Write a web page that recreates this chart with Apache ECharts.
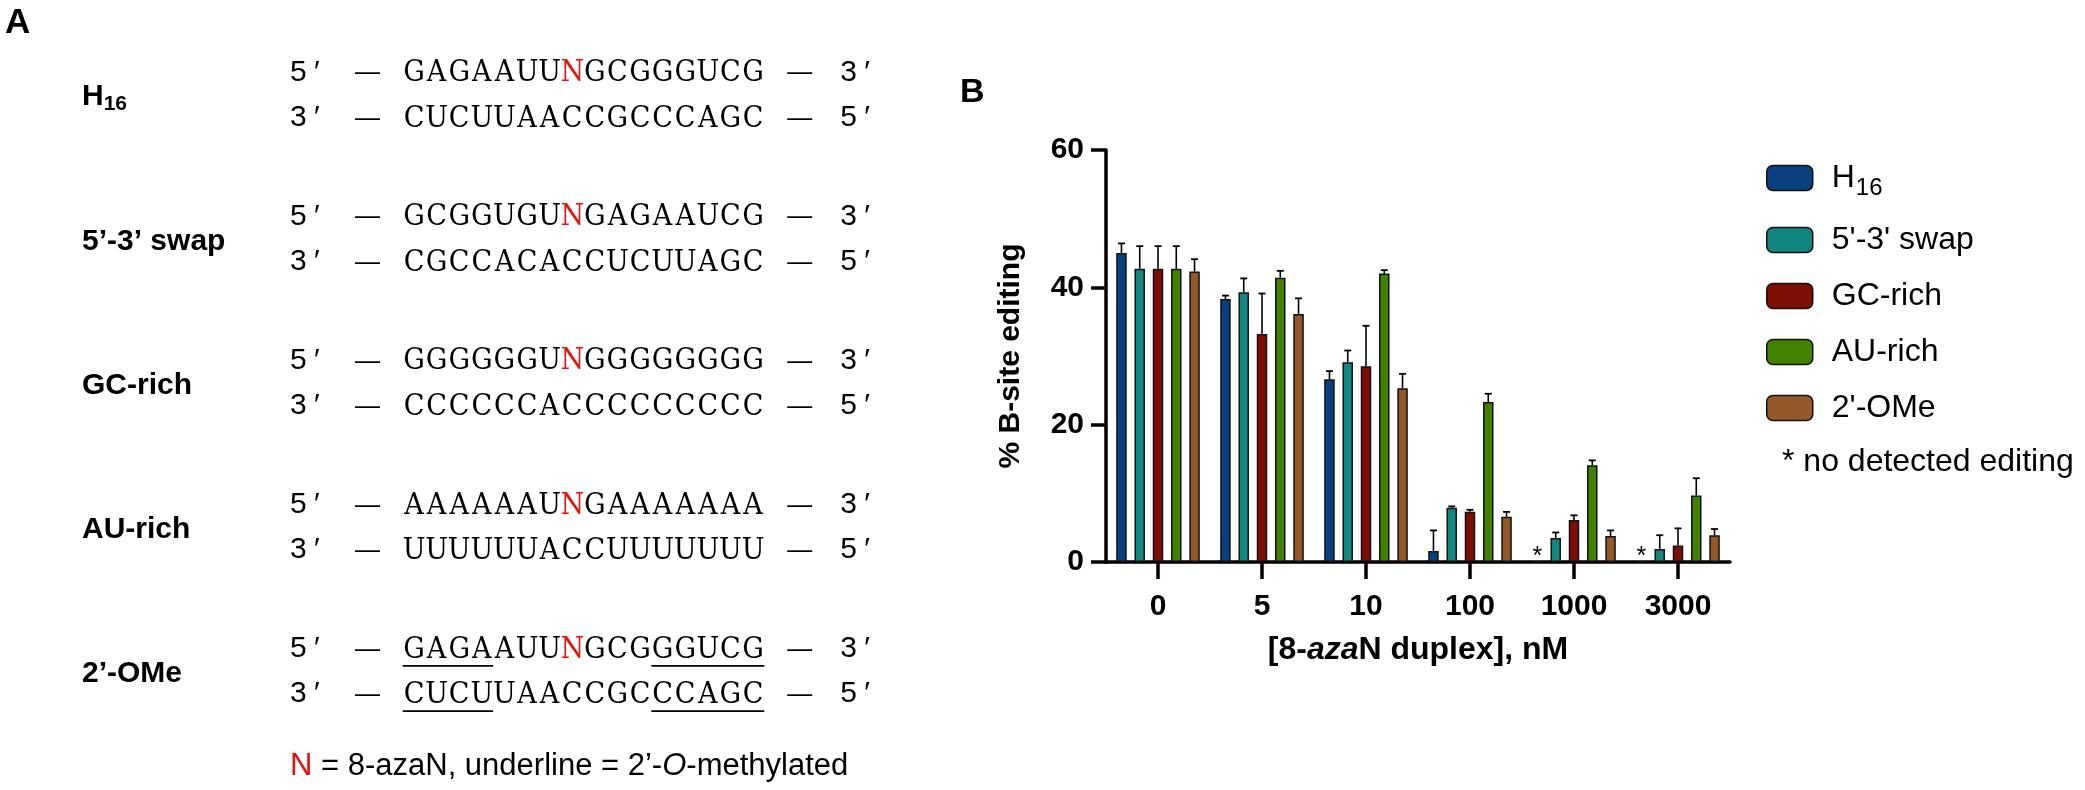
<!DOCTYPE html>
<html>
<head>
<meta charset="utf-8">
<script src="https://cdn.jsdelivr.net/npm/echarts@6/dist/echarts.min.js"></script>
<style>html,body{margin:0;padding:0;background:#fff}#c{width:2085px;height:790px}</style>
</head>
<body>
<div id="c"></div>
<script>
// ---------- DATA ----------
const categories = ['0', '5', '10', '100', '1000', '3000'];
const seriesNames = ['H16', "5'-3' swap", 'GC-rich', 'AU-rich', "2'-OMe"];
const h16      = [45.0, 38.3, 26.6, 1.6, 0, 0];
const swap     = [42.7, 39.3, 29.1, 7.9, 3.5, 1.9];
const gcRich   = [42.7, 33.2, 28.5, 7.3, 6.1, 2.4];
const auRich   = [42.7, 41.4, 42.0, 23.3, 14.1, 9.7];
const ome      = [42.3, 36.1, 25.3, 6.6, 3.8, 3.9];
const h16Err   = [1.4, 0.5, 1.2, 3.0, 0, 0];
const swapErr  = [3.3, 2.0, 1.7, 0.2, 0.8, 2.0];
const gcErr    = [3.3, 5.9, 5.9, 0.3, 0.7, 2.5];
const auErr    = [3.3, 1.0, 0.5, 1.2, 0.7, 2.5];
const omeErr   = [1.8, 2.3, 2.1, 0.7, 0.8, 0.9];
const yTicks = {min: 0, max: 60, interval: 20};
const noDetectNote = '* no detected editing';

const duplexLabels = ['H16', '5’-3’ swap', 'GC-rich', 'AU-rich', '2’-OMe'];
const topStrands    = ['GAGAAUUNGCGGGUCG', 'GCGGUGUNGAGAAUCG', 'GGGGGGUNGGGGGGGG', 'AAAAAAUNGAAAAAAA', 'GAGAAUUNGCGGGUCG'];
const bottomStrands = ['CUCUUAACCGCCCAGC', 'CGCCACACCUCUUAGC', 'CCCCCCACCCCCCCCC', 'UUUUUUACCUUUUUUU', 'CUCUUAACCGCCCAGC'];
// underlined (2'-O-methylated) ranges [start, end) per duplex
const topUnderlines    = [[], [], [], [], [[0, 4], [11, 16]]];
const bottomUnderlines = [[], [], [], [], [[0, 4], [11, 16]]];

// ---------- STYLE ----------
const SANS = "'Liberation Sans', Arial, Helvetica, sans-serif";
const SERIF = "'DejaVu Serif Condensed', 'DejaVu Serif', serif";
const colors = ['#0a3e7c', '#13857f', '#7e0d04', '#428000', '#93592a'];
const BAR_W = 10.5, BAR_GAP = 0.74;
const BAR_STEP = BAR_W * (1 + BAR_GAP);

const values = [h16, swap, gcRich, auRich, ome];
const errs = [h16Err, swapErr, gcErr, auErr, omeErr];

// ---------- PANEL A graphics ----------
const graphics = [];
graphics.push({type: 'text', left: 5, top: 6, style: {text: 'A', font: 'bold 35px ' + SANS, fill: '#000'}});
graphics.push({type: 'text', left: 960, top: 76, style: {text: 'B', font: 'bold 34px ' + SANS, fill: '#000'}});

const ROW0 = 72.5, GROUP_STEP = 144.1, STRAND_GAP = 45.3;
const SEQ_X = 402.7, CHAR_W = 22.6, SEQ_FONT = 30;

function endLabel(x, y, digit) {
  graphics.push({type: 'text', x: x, y: y, style: {text: digit, font: '30px ' + SANS, fill: '#000', verticalAlign: 'middle', align: 'left'}});
  graphics.push({type: 'text', x: x + 24, y: y, style: {text: '′', font: '30px ' + SANS, fill: '#000', verticalAlign: 'middle', align: 'left'}});
}
function dash(x, y) {
  graphics.push({type: 'text', x: x, y: y, style: {text: '—', font: '25px ' + SANS, fill: '#000', verticalAlign: 'middle', align: 'left'}});
}
function strandRow(seq, y, leftDigit, rightDigit, underl) {
  endLabel(290, y, leftDigit);
  dash(355, y + 1);
  for (let j = 0; j < seq.length; j++) {
    const ch = seq[j];
    graphics.push({type: 'text', x: SEQ_X + (j + 0.5) * CHAR_W, y: y + 1, style: {
      text: ch, font: SEQ_FONT + 'px ' + SERIF, fill: ch === 'N' ? '#e8100a' : '#000',
      verticalAlign: 'middle', align: 'center'
    }});
  }
  const seqEnd = SEQ_X + seq.length * CHAR_W;
  dash(seqEnd + 23, y + 1);
  endLabel(seqEnd + 76, y, rightDigit);
  underl.forEach(function (r) {
    graphics.push({type: 'line', shape: {x1: SEQ_X + r[0] * CHAR_W, y1: y + 17, x2: SEQ_X + r[1] * CHAR_W, y2: y + 17},
      style: {stroke: '#000', lineWidth: 1.8}});
  });
}
duplexLabels.forEach(function (lab, i) {
  const y1 = ROW0 + GROUP_STEP * i, y2 = y1 + STRAND_GAP;
  const mid = (y1 + y2) / 2;
  let txt = lab === 'H16' ? '{b|H}{s|16}' : '{b|' + lab + '}';
  graphics.push({type: 'text', x: 82, y: mid + 2, style: {
    text: txt, verticalAlign: 'middle', align: 'left',
    rich: {
      b: {font: 'bold 30px ' + SANS, fill: '#000'},
      s: {font: 'bold 21px ' + SANS, fill: '#000', padding: [14, 0, 0, 0]}
    }
  }});
  strandRow(topStrands[i], y1, '5', '3', topUnderlines[i]);
  strandRow(bottomStrands[i], y2, '3', '5', bottomUnderlines[i]);
});
graphics.push({type: 'text', x: 290, y: 766, style: {
  text: '{r|N}{k| = 8-azaN, underline = 2’-}{i|O}{k|-methylated}', verticalAlign: 'middle', align: 'left',
  rich: {
    r: {font: '31px ' + SANS, fill: '#e8100a'},
    k: {font: '31px ' + SANS, fill: '#000'},
    i: {font: 'italic 31px ' + SANS, fill: '#000'}
  }
}});
graphics.push({type: 'text', x: 1782, y: 462, style: {text: noDetectNote, font: '32px ' + SANS, fill: '#000', verticalAlign: 'middle', align: 'left'}});

// ---------- CHART ----------
const barSeries = seriesNames.map(function (name, k) {
  return {
    name: name, type: 'bar', data: values[k], barWidth: BAR_W, barGap: (BAR_GAP * 100) + '%',
    itemStyle: {color: colors[k], borderColor: '#111', borderWidth: 1.5},
    label: k === 0 ? {
      show: true, position: 'top', distance: 0, offset: [0, 8],
      formatter: function (p) { return p.value === 0 ? '*' : ''; },
      fontSize: 25, fontFamily: SANS, color: '#000'
    } : {show: false},
    emphasis: {disabled: true}
  };
});
const errData = [];
values.forEach(function (arr, k) {
  arr.forEach(function (v, i) { if (v > 0) errData.push([i, v, errs[k][i], k]); });
});
const errSeries = {
  type: 'custom', data: errData, z: 5, silent: true,
  renderItem: function (params, api) {
    const i = api.value(0), v = api.value(1), e = api.value(2), k = api.value(3);
    const base = api.coord([i, v]);
    const top = api.coord([i, v + e]);
    const x = base[0] + (k - 2) * BAR_STEP;
    return {type: 'group', children: [
      {type: 'line', shape: {x1: x, y1: base[1], x2: x, y2: top[1]}, style: {stroke: '#000', lineWidth: 1.6}},
      {type: 'line', shape: {x1: x - 3.5, y1: top[1], x2: x + 3.5, y2: top[1]}, style: {stroke: '#000', lineWidth: 1.8}}
    ]};
  }
};

const option = {
  animation: false,
  backgroundColor: '#fff',
  textStyle: {fontFamily: SANS},
  graphic: graphics,
  grid: {left: 1106, top: 150, width: 624, height: 412},
  legend: {
    data: seriesNames, orient: 'vertical', left: 1761, top: 157,
    itemWidth: 46, itemHeight: 25, itemGap: 24, selectedMode: false,
    itemStyle: {borderColor: '#111', borderWidth: 1.5},
    formatter: function (n) { return n === 'H16' ? '{n|H}{s|16}' : '{m|' + n + '}'; },
    textStyle: {
      padding: [0, 0, 0, 14],
      rich: {
        n: {fontSize: 32, fontFamily: SANS, color: '#000', lineHeight: 32, verticalAlign: 'top'},
        s: {fontSize: 24, fontFamily: SANS, color: '#000', lineHeight: 24, verticalAlign: 'top', padding: [14, 0, 0, 1]},
        m: {fontSize: 32, fontFamily: SANS, color: '#000', lineHeight: 36}
      }
    }
  },
  xAxis: {
    type: 'category', data: categories,
    axisLine: {lineStyle: {color: '#000', width: 3.5}},
    axisTick: {show: true, alignWithLabel: true, length: 17, lineStyle: {color: '#000', width: 3.5}},
    axisLabel: {color: '#000', fontWeight: 'bold', fontSize: 30, fontFamily: SANS, margin: 30},
    name: '{b|[8-}{bi|aza}{b|N duplex], nM}', nameLocation: 'middle', nameGap: 72,
    nameTextStyle: {rich: {
      b: {fontWeight: 'bold', fontSize: 32, fontFamily: SANS, color: '#000'},
      bi: {fontWeight: 'bold', fontStyle: 'italic', fontSize: 32, fontFamily: SANS, color: '#000'}
    }}
  },
  yAxis: {
    type: 'value', min: yTicks.min, max: yTicks.max, interval: yTicks.interval,
    splitLine: {show: false},
    axisLine: {show: true, lineStyle: {color: '#000', width: 3.5}},
    axisTick: {show: true, length: 15, lineStyle: {color: '#000', width: 3.5}},
    axisLabel: {color: '#000', fontWeight: 'bold', fontSize: 30, fontFamily: SANS, margin: 22},
    name: '% B-site editing', nameLocation: 'middle', nameGap: 80, nameRotate: 90,
    nameTextStyle: {fontWeight: 'bold', fontSize: 30, fontFamily: SANS, color: '#000'}
  },
  series: barSeries.concat([errSeries])
};

const chart = echarts.init(document.getElementById('c'), null, {width: 2085, height: 790, renderer: 'canvas'});
chart.setOption(option);
</script>
</body>
</html>
